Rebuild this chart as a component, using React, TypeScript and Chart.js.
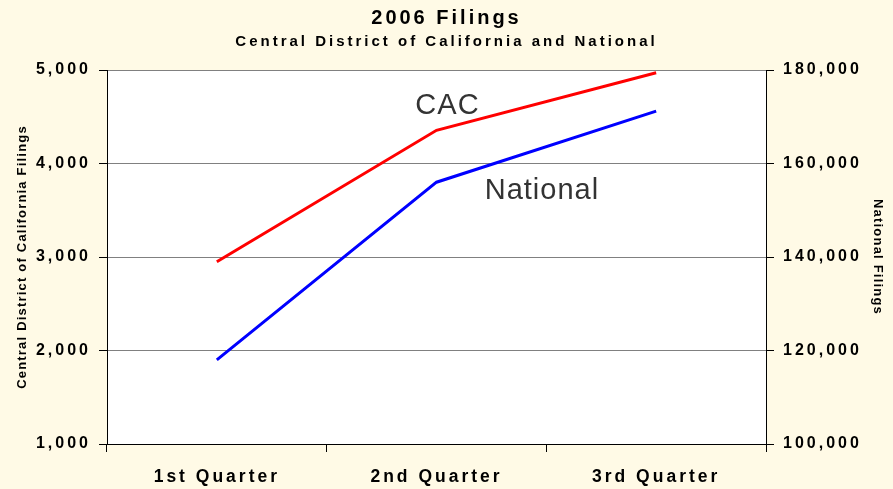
import React, { useEffect, useRef } from "react";
import { Chart, registerables } from "chart.js";

Chart.register(...registerables);

const categories: string[] = ["1st Quarter", "2nd Quarter", "3rd Quarter"];
const cacFilings: number[] = [2950, 4355, 4970];
const nationalFilings: number[] = [118000, 156000, 171200];
const leftTicks = { min: 1000, max: 5000, step: 1000 };
const rightTicks = { min: 100000, max: 180000, step: 20000 };
const titleText = "2006 Filings";
const subtitleText = "Central District of California and National";
const leftAxisTitle = "Central District of California Filings";
const rightAxisTitle = "National Filings";
// Series labels placed in data units (category index, left-axis value)
const seriesLabels = [
  { text: "CAC", index: 1.05, value: 4610 },
  { text: "National", index: 1.48, value: 3705 },
];

const FAMILY = "'Liberation Sans', Arial, Helvetica, sans-serif";
const CREAM = "#FFFAE6";
const SPACING = "3px";
const AXIS_TITLE_SPACING = "1.2px";

const stylePlugin = {
  id: "stylePlugin",
  beforeUpdate(chart: any) {
    chart.ctx.letterSpacing = SPACING;
  },
  beforeLayout(chart: any) {
    chart.ctx.letterSpacing = SPACING;
  },
  afterLayout(chart: any) {
    for (const id of ["y", "y1"]) {
      const s = chart.scales[id];
      if (s && !s.__patched) {
        const orig = s.drawTitle;
        s.drawTitle = function (...args: any[]) {
          const ctx = this.ctx;
          const prev = ctx.letterSpacing;
          ctx.letterSpacing = AXIS_TITLE_SPACING;
          orig.apply(this, args);
          ctx.letterSpacing = prev;
        };
        s.__patched = true;
      }
    }
  },
  beforeDraw(chart: any) {
    const ctx = chart.ctx;
    const a = chart.chartArea;
    ctx.save();
    ctx.fillStyle = CREAM;
    ctx.fillRect(0, 0, chart.width, chart.height);
    ctx.fillStyle = "#FFFFFF";
    ctx.fillRect(a.left, a.top, a.right - a.left, a.bottom - a.top);
    ctx.restore();
    ctx.letterSpacing = SPACING;
  },
  afterDatasetsDraw(chart: any) {
    const ctx = chart.ctx;
    const xs = chart.scales.x;
    const ys = chart.scales.y;
    ctx.save();
    ctx.letterSpacing = "1px";
    ctx.font = `normal 29px ${FAMILY}`;
    ctx.fillStyle = "#333333";
    ctx.textAlign = "center";
    ctx.textBaseline = "middle";
    for (const l of seriesLabels) {
      ctx.fillText(l.text, xs.getPixelForValue(l.index), ys.getPixelForValue(l.value));
    }
    ctx.restore();
  },
};

const fmt = (v: number | string) => Number(v).toLocaleString("en-US");

export default function App() {
  const ref = useRef<HTMLCanvasElement | null>(null);
  useEffect(() => {
    if (!ref.current) return;
    const chart = new Chart(ref.current, {
      type: "line",
      data: {
        labels: categories,
        datasets: [
          {
            label: "CAC",
            data: cacFilings,
            yAxisID: "y",
            borderColor: "#FF0000",
            backgroundColor: "#FF0000",
            borderWidth: 3,
            pointRadius: 0,
            tension: 0,
          },
          {
            label: "National",
            data: nationalFilings,
            yAxisID: "y1",
            borderColor: "#0000FF",
            backgroundColor: "#0000FF",
            borderWidth: 3,
            pointRadius: 0,
            tension: 0,
          },
        ],
      },
      options: {
        responsive: false,
        animation: false,
        devicePixelRatio: 1,
        layout: { padding: 0 },
        plugins: {
          legend: { display: false },
          tooltip: { enabled: false },
          title: {
            display: true,
            text: titleText,
            color: "#000",
            font: { family: FAMILY, size: 20, weight: "bold", lineHeight: 1.2 },
            padding: { top: 6, bottom: 0 },
          },
          subtitle: {
            display: true,
            text: subtitleText,
            color: "#000",
            font: { family: FAMILY, size: 15, weight: "bold", lineHeight: 1.2 },
            padding: { top: 2.5, bottom: 19.5 },
          },
        },
        scales: {
          x: {
            type: "category",
            offset: true,
            grid: {
              display: true,
              drawOnChartArea: false,
              drawTicks: true,
              tickLength: 8,
              color: "#000",
              tickColor: "#000",
              offset: true,
            },
            border: { display: true, color: "#000", width: 1 },
            ticks: {
              color: "#000",
              font: { family: FAMILY, size: 17.5, weight: "bold" },
              padding: 15,
              maxRotation: 0,
              minRotation: 0,
              autoSkip: false,
            },
            afterFit: (s: any) => {
              s.height = 45;
            },
          },
          y: {
            type: "linear",
            position: "left",
            min: leftTicks.min,
            max: leftTicks.max,
            ticks: {
              stepSize: leftTicks.step,
              color: "#000",
              font: { family: FAMILY, size: 16, weight: "bold" },
              padding: 8,
              callback: (v: any) => fmt(v),
            },
            grid: {
              color: "#808080",
              tickColor: "#000",
              tickLength: 8,
              lineWidth: 1,
            },
            border: { display: true, color: "#000", width: 1 },
            title: {
              display: true,
              text: leftAxisTitle,
              color: "#000",
              font: { family: FAMILY, size: 13, weight: "bold", lineHeight: 1.2 },
              padding: { top: 15, bottom: 0 },
            },
            afterFit: (s: any) => {
              s.width = 107;
            },
          },
          y1: {
            type: "linear",
            position: "right",
            min: rightTicks.min,
            max: rightTicks.max,
            ticks: {
              stepSize: rightTicks.step,
              color: "#000",
              font: { family: FAMILY, size: 16, weight: "bold" },
              padding: 9,
              callback: (v: any) => fmt(v),
            },
            grid: {
              drawOnChartArea: false,
              color: "#000",
              tickColor: "#000",
              tickLength: 8,
            },
            border: { display: true, color: "#000", width: 1 },
            title: {
              display: true,
              text: rightAxisTitle,
              color: "#000",
              font: { family: FAMILY, size: 13, weight: "bold", lineHeight: 1.2 },
              padding: { top: 8, bottom: 0 },
            },
            afterFit: (s: any) => {
              s.width = 127;
            },
          },
        },
      } as any,
      plugins: [stylePlugin],
    });
    return () => chart.destroy();
  }, []);

  return (
    <div
      style={{
        position: "fixed",
        left: 0,
        top: 0,
        width: 893,
        height: 489,
        background: CREAM,
      }}
    >
      <canvas ref={ref} width={893} height={489} style={{ display: "block" }} />
    </div>
  );
}
